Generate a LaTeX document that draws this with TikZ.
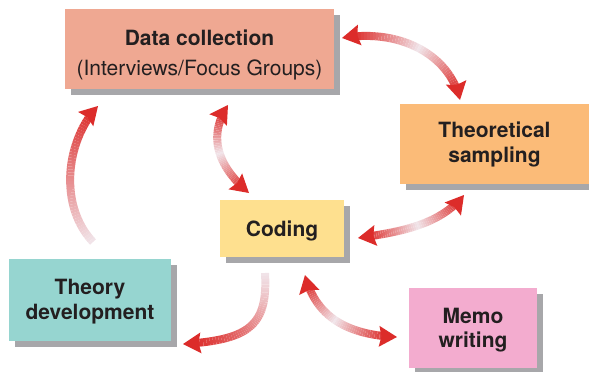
\documentclass[tikz,border=0pt]{standalone}
\usepackage{fontspec}
\setmainfont{TeX Gyre Heros}
\usetikzlibrary{calc,shadows}

\definecolor{dcfill}{RGB}{239,168,146}
\definecolor{tsfill}{RGB}{251,187,120}
\definecolor{codfill}{RGB}{254,224,143}
\definecolor{tdfill}{RGB}{150,213,208}
\definecolor{mwfill}{RGB}{243,172,207}
\definecolor{shd}{RGB}{167,167,170}
\definecolor{txt}{RGB}{35,31,32}
\definecolor{ared}{RGB}{220,44,42}
\definecolor{apale}{RGB}{241,229,234}

% gradient shaft: #1 prefix, #2 start, #3 ctrl1, #4 ctrl2, #5 end, #6 mode (1 both / 0 single), #7 t start, #8 t end
\newcommand\gradshaft[8]{%
  \path (#2) .. controls (#3) and (#4) .. (#5)
    \foreach \k [evaluate=\k as \tk using #7+(#8-#7)*\k/48] in {0,...,48} {coordinate[pos=\tk] (#1\k)};
  \foreach \k [evaluate=\k as \tm using #7+(#8-#7)*(\k+0.5)/48] in {0,...,47} {
    \pgfmathtruncatemacro\kn{\k+1}
    \ifnum#6=1
      \pgfmathsetmacro\pc{min(100,115*abs(2*\tm-1))}%
    \else
      \pgfmathsetmacro\pc{min(100,105*\tm)}%
    \fi
    \draw[shaftline, ared!\pc!apale] (#1\k) -- (#1\kn);
  }%
}
% arrow head: #1 tip, #2 point behind (tangent)
\newcommand\headat[2]{%
  \fill[ared] let \p1=($(#1)-(#2)$), \n1={atan2(\y1,\x1)} in
    (#1) -- ($(#1)+(\n1+149.74:20.84pt)$) -- ($(#1)+(\n1+180:15.5pt)$)
    -- ($(#1)+(\n1+210.26:20.84pt)$) -- cycle;%
}

\tikzset{
  box/.style={rectangle, inner sep=0pt, align=center, text=txt,
    font=\fontsize{21}{24.5}\selectfont\bfseries,
    drop shadow={shadow xshift=6pt, shadow yshift=-6pt, fill=shd, opacity=1}},
  shaftline/.style={line width=8pt, line cap=butt},
}

\begin{document}
\begin{tikzpicture}[x=1pt,y=-1pt]
\useasboundingbox (0,0) rectangle (589,372);

% boxes
\node[box, fill=dcfill, minimum width=269pt, minimum height=80pt] (dc) at (199.5,49)
  {\rule{0pt}{27.5pt}Data collection\\[6pt]{\mdseries (Interviews/Focus Groups)}};
\node[box, fill=tsfill, minimum width=189pt, minimum height=80pt] (ts) at (494.5,144)
  {\rule{0pt}{17pt}Theoretical\\sampling};
\node[box, fill=codfill, minimum width=124pt, minimum height=57pt] (cod) at (282,228.5)
  {\rule{0pt}{20pt}Coding};
\node[box, fill=tdfill, minimum width=162pt, minimum height=82pt] (td) at (90,300)
  {\rule{0pt}{19pt}Theory\\development};
\node[box, fill=mwfill, minimum width=128pt, minimum height=80pt] (mw) at (473,328)
  {\rule{0pt}{20pt}Memo\\writing};

% arrow end points and control points
\coordinate (a1) at (342,38);  \coordinate (a1c) at (400,28);
\coordinate (a2) at (460,100); \coordinate (a2c) at (450,55);
\coordinate (b1) at (228,105); \coordinate (b1c) at (205,140);
\coordinate (b2) at (249,193); \coordinate (b2c) at (222,170);
\coordinate (c1) at (358,238); \coordinate (c1c) at (400,232);
\coordinate (c2) at (464,195); \coordinate (c2c) at (440,225);
\coordinate (d1) at (265,273); \coordinate (d1c) at (268,325);
\coordinate (d2) at (183,344); \coordinate (d2c) at (250,340);
\coordinate (e1) at (305,275); \coordinate (e1c) at (315,315);
\coordinate (e2) at (397,337); \coordinate (e2c) at (345,335);
\coordinate (f1) at (93,242);  \coordinate (f1c) at (58,205);
\coordinate (f2) at (98,106);  \coordinate (f2c) at (66,140);

% connectors: Data collection <-> Theoretical sampling
\gradshaft{A}{a1}{a1c}{a2c}{a2}{1}{0.057}{0.928}
\headat{a1}{a1c} \headat{a2}{a2c}
% Data collection <-> Coding
\gradshaft{B}{b1}{b1c}{b2c}{b2}{1}{0.080}{0.906}
\headat{b1}{b1c} \headat{b2}{b2c}
% Coding <-> Theoretical sampling
\gradshaft{C}{c1}{c1c}{c2c}{c2}{1}{0.079}{0.913}
\headat{c1}{c1c} \headat{c2}{c2c}
% Coding -> Theory development
\gradshaft{D}{d1}{d1c}{d2c}{d2}{0}{0}{0.95}
\headat{d2}{d2c}
% Coding <-> Memo writing
\gradshaft{E}{e1}{e1c}{e2c}{e2}{1}{0.081}{0.936}
\headat{e1}{e1c} \headat{e2}{e2c}
% Theory development -> Data collection
\gradshaft{F}{f1}{f1c}{f2c}{f2}{0}{0}{0.929}
\headat{f2}{f2c}
\end{tikzpicture}
\end{document}
